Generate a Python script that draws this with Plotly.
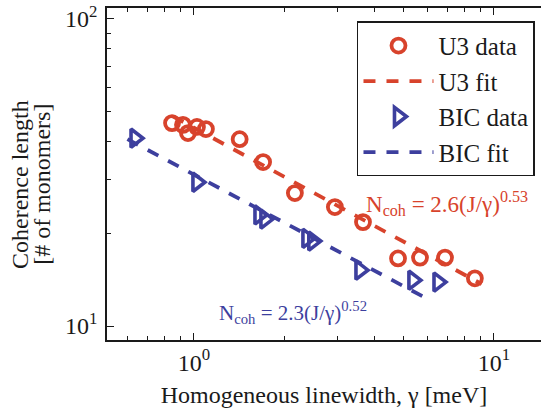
import plotly.graph_objects as go

# ---- data ----
u3_gamma = [0.845, 0.919, 0.955, 1.023, 1.096, 1.42, 1.70, 2.17, 2.95, 3.66, 4.79, 5.67, 6.87, 8.64]
u3_ncoh  = [45.8, 45.2, 42.5, 44.5, 43.8, 40.6, 34.2, 27.1, 24.4, 21.8, 16.6, 16.7, 16.7, 14.3]

bic_gamma = [0.636, 1.023, 1.647, 1.724, 2.38, 2.49, 3.576, 5.37, 6.51]
bic_ncoh  = [40.9, 29.4, 23.0, 22.3, 19.3, 18.9, 15.2, 14.1, 13.9]

u3_fit_gamma = [0.85, 9.1]
u3_fit_ncoh  = [48.2, 13.7]
bic_fit_gamma = [0.60, 6.0]
bic_fit_ncoh  = [40.6, 12.26]

x_ticks = [1, 10]
x_ticktext = ["10<sup>0</sup>", "10<sup>1</sup>"]
y_ticks = [10, 100]
y_ticktext = ["10<sup>1</sup>", "10<sup>2</sup>"]

RED = "#d8432c"
BLUE = "#3d3f9e"
INK = "#1a1a1a"
FONT = "Liberation Serif"

fig = go.Figure()
fig.add_trace(go.Scatter(x=u3_gamma, y=u3_ncoh, mode="markers", name="U3 data",
                         legendgroup="a",
                         marker=dict(symbol="circle-open", size=14, color=RED,
                                     line=dict(width=3.8, color=RED))))
fig.add_trace(go.Scatter(x=u3_fit_gamma, y=u3_fit_ncoh, mode="lines", name="U3 fit",
                         legendgroup="b",
                         line=dict(color=RED, width=3.8, dash="12px,11px")))
fig.add_trace(go.Scatter(x=bic_gamma, y=bic_ncoh, mode="markers", name="BIC data",
                         legendgroup="c",
                         marker=dict(symbol="triangle-right-open", size=16, color=BLUE,
                                     line=dict(width=3.6, color=BLUE))))
fig.add_trace(go.Scatter(x=bic_fit_gamma, y=bic_fit_ncoh, mode="lines", name="BIC fit",
                         legendgroup="d",
                         line=dict(color=BLUE, width=3.8, dash="12px,11px")))

x_minor = [0.6, 0.7, 0.8, 0.9, 2, 3, 4, 5, 6, 7, 8, 9]
y_minor = [20, 30, 40, 50, 60, 70, 80, 90]

fig.update_layout(
    width=541, height=414,
    margin=dict(l=107, r=0, t=8, b=74),
    paper_bgcolor="white", plot_bgcolor="white",
    font=dict(family=FONT, size=22, color=INK),
    showlegend=True,
    legend=dict(x=0.576, y=0.96, xanchor="left", yanchor="top",
                bgcolor="white", bordercolor=INK, borderwidth=1.5,
                font=dict(family=FONT, size=25, color=INK),
                itemwidth=70, tracegroupgap=0, traceorder="normal"),
    xaxis=dict(type="log", range=[-0.29, 1.157],
               tickmode="array", tickvals=x_ticks, ticktext=x_ticktext,
               ticks="inside", ticklen=7, tickwidth=1.3, tickcolor=INK,
               showline=True, linecolor=INK, linewidth=1.5, mirror="ticks",
               showgrid=False, zeroline=False,
               tickfont=dict(family=FONT, size=24, color=INK),
               minor=dict(tickmode="array", tickvals=x_minor, ticks="inside",
                          ticklen=4, tickwidth=1.2, tickcolor=INK, showgrid=False),
               title=dict(text="Homogeneous linewidth, γ [meV]",
                          font=dict(family=FONT, size=24, color=INK), standoff=12)),
    yaxis=dict(type="log", range=[0.9544, 2.0358],
               tickmode="array", tickvals=y_ticks, ticktext=y_ticktext,
               ticks="inside", ticklen=7, tickwidth=1.3, tickcolor=INK,
               showline=True, linecolor=INK, linewidth=1.5, mirror=False,
               showgrid=False, zeroline=False, ticklabelstandoff=3,
               tickfont=dict(family=FONT, size=24, color=INK),
               minor=dict(tickmode="array", tickvals=y_minor, ticks="inside",
                          ticklen=4, tickwidth=1.2, tickcolor=INK, showgrid=False)),
)

# y-axis title (two rotated lines)
fig.add_annotation(x=-0.2005, y=0.47, xref="paper", yref="paper", xanchor="center", yanchor="middle",
                   text="Coherence length", textangle=-90, showarrow=False,
                   font=dict(family=FONT, size=24, color=INK))
fig.add_annotation(x=-0.150, y=0.47, xref="paper", yref="paper", xanchor="center", yanchor="middle",
                   text="[# of monomers]", textangle=-90, showarrow=False,
                   font=dict(family=FONT, size=24, color=INK))

fig.add_annotation(x=0.567, y=1.40, xref="x", yref="y", xanchor="left", yanchor="middle",
                   text="N<sub>coh</sub> = 2.6(J/γ)<sup>0.53</sup>", showarrow=False,
                   font=dict(family=FONT, size=23, color=RED))
fig.add_annotation(x=0.078, y=1.043, xref="x", yref="y", xanchor="left", yanchor="middle",
                   text="N<sub>coh</sub> = 2.3(J/γ)<sup>0.52</sup>", showarrow=False,
                   font=dict(family=FONT, size=21, color=BLUE))

fig.write_html("out.html")
